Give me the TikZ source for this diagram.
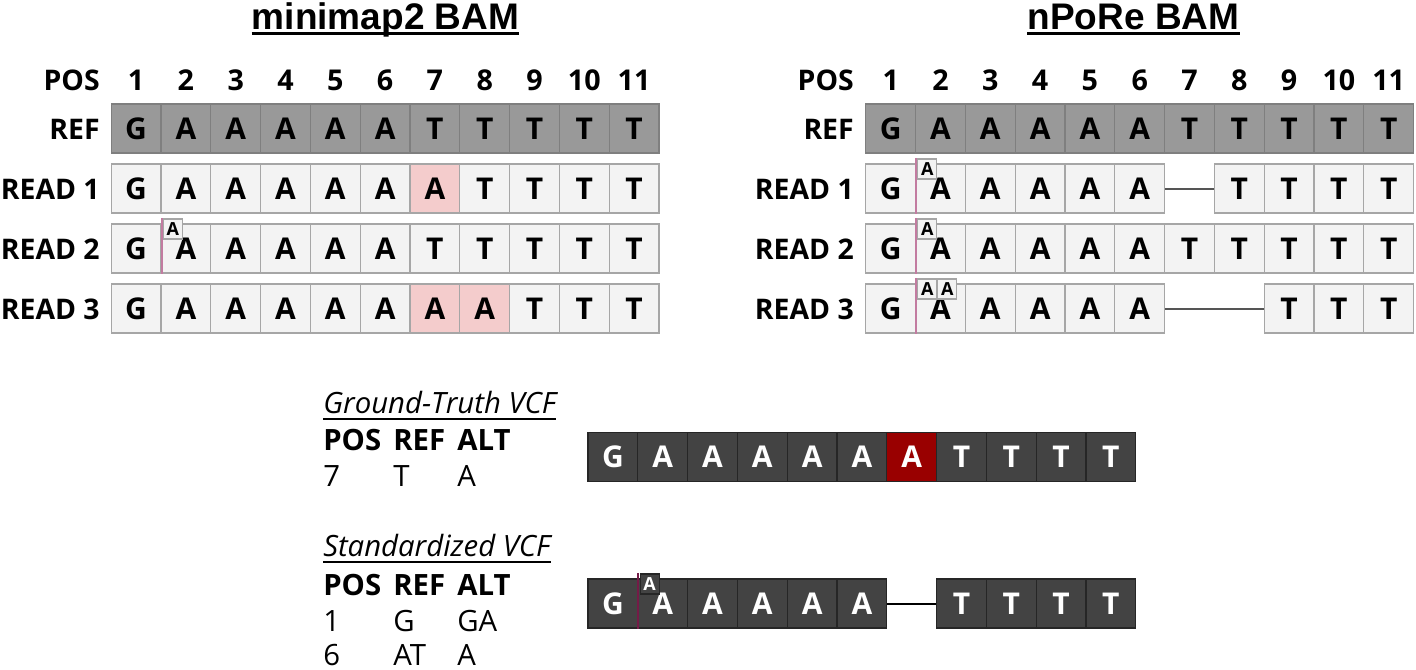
\documentclass[tikz,border=0pt]{standalone}
\usepackage{fontspec}
\setmainfont{Open Sans}
\newfontfamily\titlefont{Liberation Sans}
\definecolor{refgray}{HTML}{999999}
\definecolor{refborder}{HTML}{7F7F7F}
\definecolor{readfill}{HTML}{F3F3F3}
\definecolor{readborder}{HTML}{A6A6A6}
\definecolor{pinkfill}{HTML}{F4CCCC}
\definecolor{insline}{HTML}{C27BA0}
\definecolor{darkfill}{HTML}{434343}
\definecolor{darkborder}{HTML}{262626}
\definecolor{redfill}{HTML}{990000}
\definecolor{darkins}{HTML}{741B47}
\definecolor{gapgray}{HTML}{555555}
\begin{document}
\begin{tikzpicture}[x=0.75pt,y=-0.75pt,
  cellbase/.style={draw, line width=0.8pt, minimum width=37.35pt, minimum height=36.75pt, inner sep=0pt, font=\bfseries\fontsize{22.5}{26}\selectfont, anchor=center},
  refcell/.style={cellbase, fill=refgray, draw=refborder},
  readcell/.style={cellbase, fill=readfill, draw=readborder},
  pinkcell/.style={cellbase, fill=pinkfill, draw=readborder},
  darkcell/.style={cellbase, fill=darkfill, draw=darkborder, text=white},
  redcell/.style={cellbase, fill=redfill, draw=darkborder, text=white},
  lbl/.style={anchor=base east, inner sep=0pt, font=\bfseries\fontsize{21.3}{25}\selectfont},
  posnum/.style={anchor=base, inner sep=0pt, font=\bfseries\fontsize{21.5}{25}\selectfont},
  titletext/.style={anchor=base, inner sep=0pt, font=\titlefont\bfseries\fontsize{27.75}{32}\selectfont},
  vcftitle/.style={anchor=base west, inner sep=0pt, font=\itshape\fontsize{22}{26}\selectfont},
  vcfhead/.style={anchor=base west, inner sep=0pt, font=\bfseries\fontsize{22}{26}\selectfont},
  vcfval/.style={anchor=base west, inner sep=0pt, font=\fontsize{22}{26}\selectfont},
  insline/.style={draw=insline, line width=1.5pt},
  darkinsline/.style={draw=darkins, line width=1.5pt},
  insbox/.style={draw=readborder, fill=readfill, line width=0.8pt, minimum width=14.25pt, minimum height=15pt, inner sep=0pt, anchor=north west, font=\bfseries\fontsize{13.5}{15}\selectfont},
  darkinsbox/.style={draw=darkborder, fill=darkfill, text=white, line width=0.8pt, minimum width=14.25pt, minimum height=15pt, inner sep=0pt, anchor=north west, font=\bfseries\fontsize{13.5}{15}\selectfont},
  gapline/.style={draw=gapgray, line width=1.5pt},
  darkgapline/.style={draw=black, line width=1.5pt}
]
\useasboundingbox (0,0) rectangle (1416,669);

% ---------- titles
\node[titletext] (t1) at (385.5,29.5) {minimap2 BAM};
\draw[line width=2.2pt] ([yshift=-3pt]t1.base west) -- ([yshift=-3pt]t1.base east);
\node[titletext] (t2) at (1133.5,29.5) {nPoRe BAM};
\draw[line width=2.2pt] ([yshift=-3pt]t2.base west) -- ([yshift=-3pt]t2.base east);

% ---------- left labels
\node[lbl] (lpos) at (100,90) {POS};
\node[lbl] (lref) at (100,139.8) {REF};
\node[lbl] (lr1) at (100,199.8) {READ 1};
\node[lbl] (lr2) at (100,259.8) {READ 2};
\node[lbl] (lr3) at (100,319.8) {READ 3};
% ---------- right labels
\node[lbl] (rpos) at (854,90) {POS};
\node[lbl] (rref) at (854,139.8) {REF};
\node[lbl] (rr1) at (854,199.8) {READ 1};
\node[lbl] (rr2) at (854,259.8) {READ 2};
\node[lbl] (rr3) at (854,319.8) {READ 3};

% ---------- position numbers
\foreach \c in {1,...,11} {
  \node[posnum] (lp\c) at ({111.2+(\c-0.5)*49.8},90) {\c};
  \node[posnum] (rp\c) at ({865.8+(\c-0.5)*49.8},90) {\c};
}

% ---------- REF rows
\foreach \c/\l in {1/G,2/A,3/A,4/A,5/A,6/A,7/T,8/T,9/T,10/T,11/T} {
  \node[refcell] (LR\c) at ({111.2+(\c-0.5)*49.8},128.5) {\l};
  \node[refcell] (RR\c) at ({865.8+(\c-0.5)*49.8},128.5) {\l};
}

% ---------- minimap2 reads
\foreach \c/\l/\s in {1/G/readcell,2/A/readcell,3/A/readcell,4/A/readcell,5/A/readcell,6/A/readcell,7/A/pinkcell,8/T/readcell,9/T/readcell,10/T/readcell,11/T/readcell} {
  \node[\s] (La\c) at ({111.2+(\c-0.5)*49.8},188.5) {\l};
}
\foreach \c/\l in {1/G,2/A,3/A,4/A,5/A,6/A,7/T,8/T,9/T,10/T,11/T} {
  \node[readcell] (Lb\c) at ({111.2+(\c-0.5)*49.8},248.5) {\l};
}
\foreach \c/\l/\s in {1/G/readcell,2/A/readcell,3/A/readcell,4/A/readcell,5/A/readcell,6/A/readcell,7/A/pinkcell,8/A/pinkcell,9/T/readcell,10/T/readcell,11/T/readcell} {
  \node[\s] (Lc\c) at ({111.2+(\c-0.5)*49.8},308.5) {\l};
}
\draw[insline] ([yshift=3.75pt]Lb1.north east) -- (Lb1.south east);
\node[insbox] (Lbi) at ([xshift=0.9pt,yshift=3.75pt]Lb1.north east) {A};

% ---------- nPoRe reads
\foreach \c/\l in {1/G,2/A,3/A,4/A,5/A,6/A,8/T,9/T,10/T,11/T} {
  \node[readcell] (Ra\c) at ({865.8+(\c-0.5)*49.8},188.5) {\l};
}
\foreach \c/\l in {1/G,2/A,3/A,4/A,5/A,6/A,7/T,8/T,9/T,10/T,11/T} {
  \node[readcell] (Rb\c) at ({865.8+(\c-0.5)*49.8},248.5) {\l};
}
\foreach \c/\l in {1/G,2/A,3/A,4/A,5/A,6/A,9/T,10/T,11/T} {
  \node[readcell] (Rc\c) at ({865.8+(\c-0.5)*49.8},308.5) {\l};
}
\draw[gapline] (Ra6.east) -- (Ra8.west);
\draw[gapline] (Rc6.east) -- (Rc9.west);
\draw[insline] ([yshift=3.75pt]Ra1.north east) -- (Ra1.south east);
\node[insbox] (Rai) at ([xshift=0.9pt,yshift=3.75pt]Ra1.north east) {A};
\draw[insline] ([yshift=3.75pt]Rb1.north east) -- (Rb1.south east);
\node[insbox] (Rbi) at ([xshift=0.9pt,yshift=3.75pt]Rb1.north east) {A};
\draw[insline] ([yshift=3.75pt]Rc1.north east) -- (Rc1.south east);
\node[insbox] (Rci) at ([xshift=0.9pt,yshift=3.75pt]Rc1.north east) {A};
\node[insbox] (Rcj) at (Rci.north east) {A};

% ---------- Ground-truth VCF
\node[vcftitle] (gtt) at (323,413) {Ground-Truth VCF};
\draw[line width=1.1pt] ([yshift=-4.5pt]gtt.base west) -- ([yshift=-4.5pt]gtt.base east);
\node[vcfhead] (gh1) at (323,450) {POS};
\node[vcfhead] (gh2) at (393,450) {REF};
\node[vcfhead] (gh3) at (457,450) {ALT};
\node[vcfval] (gv1) at (323,486) {7};
\node[vcfval] (gv2) at (393,486) {T};
\node[vcfval] (gv3) at (457,486) {A};

\foreach \c/\l/\s in {1/G/darkcell,2/A/darkcell,3/A/darkcell,4/A/darkcell,5/A/darkcell,6/A/darkcell,7/A/redcell,8/T/darkcell,9/T/darkcell,10/T/darkcell,11/T/darkcell} {
  \node[\s] (G\c) at ({588+(\c-0.5)*49.8},457) {\l};
}

% ---------- Standardized VCF
\node[vcftitle] (stt) at (323,556.5) {Standardized VCF};
\draw[line width=1.1pt] ([yshift=-4.2pt]stt.base west) -- ([yshift=-4.2pt]stt.base east);
\node[vcfhead] (sh1) at (323,595) {POS};
\node[vcfhead] (sh2) at (393,595) {REF};
\node[vcfhead] (sh3) at (457,595) {ALT};
\node[vcfval] (sv1) at (323,631.5) {1};
\node[vcfval] (sv2) at (393,631.5) {G};
\node[vcfval] (sv3) at (457,631.5) {GA};
\node[vcfval] (sw1) at (323,665) {6};
\node[vcfval] (sw2) at (393,665) {AT};
\node[vcfval] (sw3) at (457,665) {A};

\foreach \c/\l in {1/G,2/A,3/A,4/A,5/A,6/A,8/T,9/T,10/T,11/T} {
  \node[darkcell] (S\c) at ({588+(\c-0.5)*49.8},603.5) {\l};
}
\draw[darkgapline] (S6.east) -- (S8.west);
\draw[darkinsline] ([yshift=3.75pt]S1.north east) -- (S1.south east);
\node[darkinsbox] (Si) at ([xshift=0.9pt,yshift=3.75pt]S1.north east) {A};
\end{tikzpicture}
\end{document}
